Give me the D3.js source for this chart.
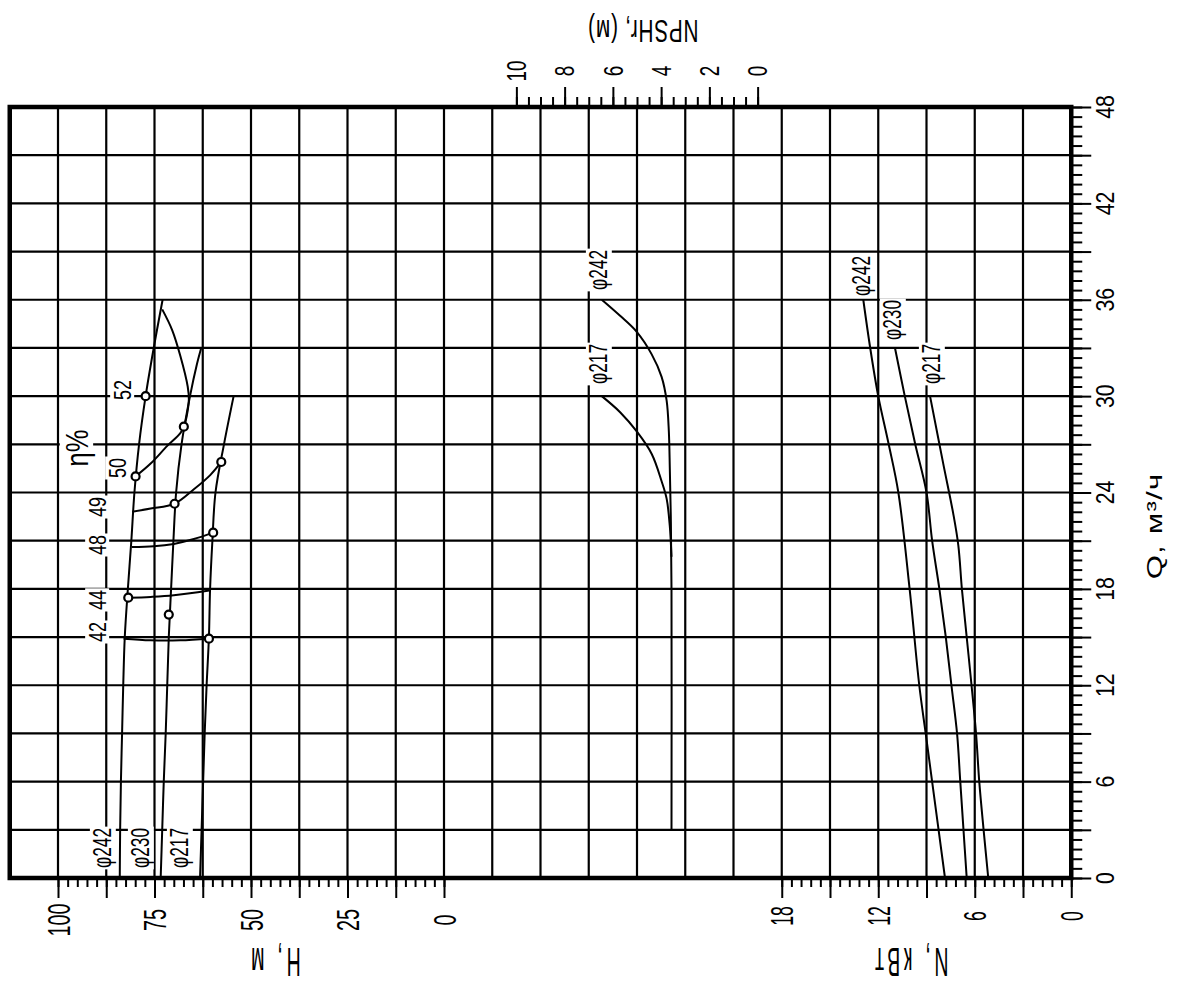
<!DOCTYPE html>
<html><head><meta charset="utf-8">
<script src="https://cdn.jsdelivr.net/npm/d3@7"></script>
<style>html,body{margin:0;padding:0;background:#fff;}svg{display:block;}</style>
</head><body>
<svg id="c" width="1183" height="987"></svg>
<script>
// ---------- data ----------
const qTicks = [0, 6, 12, 18, 24, 30, 36, 42, 48];
const hTicks = [0, 25, 50, 75, 100];
const nTicks = [0, 6, 12, 18];
const npshTicks = [0, 2, 4, 6, 8, 10];
const diameters = ["φ242", "φ230", "φ217"];

// H(Q) curves  [Q, H]
const head242 = [[0,84.0],[3,83.9],[6,83.7],[9,83.4],[12,83.1],[15,82.7],[18,81.9],[21,81.0],[24,80.2],[27,79.0],[30,77.3],[33,75.2],[36,72.9]];
const head230 = [[0,73.4],[3,73.0],[6,72.6],[9,72.1],[12,71.7],[15,71.3],[18,70.7],[21,70.1],[24,69.4],[27,68.0],[30,65.8],[32,64.0],[33,62.9]];
const head217 = [[0,63.2],[3,62.8],[6,62.4],[9,62.0],[12,61.5],[15,60.9],[18,60.6],[21,60.0],[24,59.2],[27,57.0],[30,54.5]];

// N(Q) curves  [Q, N]
const power242 = [[0,7.85],[6,8.65],[9,9.05],[12,9.45],[18,10.05],[24,10.75],[27,11.35],[30,12.0],[33,12.5],[36,12.93]];
const power230 = [[0,6.5],[3,6.7],[6,6.9],[9,7.1],[12,7.45],[15,7.8],[18,8.2],[21,8.65],[24,9.0],[27,9.7],[30,10.35],[33,10.96]];
const power217 = [[0,5.16],[3,5.45],[6,5.72],[9,5.92],[12,6.2],[15,6.5],[18,6.8],[20.7,7.02],[22.7,7.34],[25.8,7.96],[30,8.78]];

// NPSHr(Q) curves [Q, NPSH]
const npsh242 = [[3,3.57],[18,3.57],[22.6,3.6],[25.5,3.64],[27.8,3.68],[29.7,3.77],[31.2,3.98],[32.6,4.39],[34,5.01],[35,5.7],[36,6.46]];
const npsh217 = [[20,3.57],[21.9,3.64],[23.6,3.77],[24.7,3.98],[26.4,4.39],[27.8,5.01],[29,5.7],[30,6.46]];

// iso-efficiency lines [Q, H]
const eff42 = [[14.9,83.0],[14.8,76.0],[14.8,68.3],[14.9,60.9]];
const eff44 = [[17.45,81.8],[17.5,76.0],[17.6,70.0],[17.9,60.8]];
const eff48 = [[20.6,80.9],[20.65,75.2],[20.8,70.0],[21.1,64.8],[21.5,59.8]];
const eff49 = [[22.8,80.8],[23.0,76.0],[23.3,69.8],[24.2,64.8],[25.1,60.5],[25.9,57.7]];
const eff50 = [[25.0,79.9],[25.8,76.0],[26.9,71.7],[27.7,68.3],[28.1,67.4],[28.7,66.7],[29.8,66.1],[30.6,66.4],[32.5,68.3],[34.1,70.4],[35.4,73.0]];
const effLabels = ["42", "44", "48", "49", "50", "52"];

// marked points [Q, H]
const markers = [[30,77.3],[28.1,67.4],[25.0,79.9],[25.9,57.7],[23.3,69.8],[21.5,59.8],[17.45,81.8],[16.4,71.3],[14.9,60.9]];

// ---------- scales ----------
const svg = d3.select("#c");
const GRID = 48.25;
const yQ = d3.scaleLinear().domain([0, 48]).range([878, 107]);
const xH = d3.scaleLinear().domain([0, 100]).range([444, 444 - 8 * GRID]);
const xN = d3.scaleLinear().domain([0, 18]).range([444 + 13 * GRID, 444 + 7 * GRID]);
const xP = d3.scaleLinear().domain([0, 10]).range([444 + 6.5 * GRID, 444 + 1.5 * GRID]);
const FONT = "'Liberation Sans', Arial, sans-serif";

// ---------- grid ----------
const grid = svg.append("g").attr("stroke", "#000").attr("stroke-width", 2.2);
d3.range(1, 22).map(k => 112.5 - 12.5 * k).forEach(h => {
  grid.append("line").attr("x1", xH(h)).attr("x2", xH(h)).attr("y1", yQ(48)).attr("y2", yQ(0));
});
d3.range(3, 48, 3).forEach(q => {
  grid.append("line").attr("x1", xH(112.5)).attr("x2", xH(-162.5)).attr("y1", yQ(q)).attr("y2", yQ(q));
});

// ---------- curves ----------
const curves = svg.append("g").attr("fill", "none").attr("stroke", "#000").attr("stroke-width", 2);
const lineH = d3.line().x(d => xH(d[1])).y(d => yQ(d[0])).curve(d3.curveCatmullRom.alpha(0.5));
const lineN = d3.line().x(d => xN(d[1])).y(d => yQ(d[0])).curve(d3.curveCatmullRom.alpha(0.5));
const lineP = d3.line().x(d => xP(d[1])).y(d => yQ(d[0])).curve(d3.curveCatmullRom.alpha(0.5));
[head242, head230, head217, eff42, eff44, eff48, eff49, eff50].forEach(s => curves.append("path").attr("d", lineH(s)));
[power242, power230, power217].forEach(s => curves.append("path").attr("d", lineN(s)));
[npsh242, npsh217].forEach(s => curves.append("path").attr("d", lineP(s)));

svg.append("g").selectAll("circle").data(markers).join("circle")
  .attr("cx", d => xH(d[1])).attr("cy", d => yQ(d[0])).attr("r", 4)
  .attr("fill", "#fff").attr("stroke", "#000").attr("stroke-width", 2.2);

// ---------- frame ----------
svg.append("rect").attr("x", xH(112.5)).attr("y", yQ(48))
  .attr("width", xH(-162.5) - xH(112.5)).attr("height", yQ(0) - yQ(48))
  .attr("fill", "none").attr("stroke", "#000").attr("stroke-width", 4.5);

// ---------- axes ----------
function styleAxis(g) {
  g.select(".domain").remove();
  g.selectAll("line").attr("stroke", "#000").attr("stroke-width", 2);
}
const minor = (a, b, s) => d3.range(a, b + 1e-9, s).map(v => +v.toFixed(3));
svg.append("g").attr("transform", `translate(${xN(0)},0)`)
  .call(d3.axisRight(yQ).tickValues(minor(0, 48, 0.6)).tickSize(11).tickFormat("")).call(styleAxis);
svg.append("g").attr("transform", `translate(${xN(0)},0)`)
  .call(d3.axisRight(yQ).tickValues(minor(0, 48, 3)).tickSize(20).tickFormat("")).call(styleAxis);
svg.append("g").attr("transform", `translate(0,${yQ(0)})`)
  .call(d3.axisBottom(xH).tickValues(minor(0, 100, 2.5)).tickSize(9).tickFormat("")).call(styleAxis);
svg.append("g").attr("transform", `translate(0,${yQ(0)})`)
  .call(d3.axisBottom(xH).tickValues(minor(0, 100, 12.5)).tickSize(20).tickFormat("")).call(styleAxis);
svg.append("g").attr("transform", `translate(0,${yQ(0)})`)
  .call(d3.axisBottom(xN).tickValues(minor(0, 18, 0.6)).tickSize(9).tickFormat("")).call(styleAxis);
svg.append("g").attr("transform", `translate(0,${yQ(0)})`)
  .call(d3.axisBottom(xN).tickValues(minor(0, 18, 3)).tickSize(20).tickFormat("")).call(styleAxis);
svg.append("g").attr("transform", `translate(0,${yQ(48)})`)
  .call(d3.axisTop(xP).tickValues(minor(0, 10, 0.5)).tickSize(10).tickFormat("")).call(styleAxis);
svg.append("g").attr("transform", `translate(0,${yQ(48)})`)
  .call(d3.axisTop(xP).tickValues(minor(0, 10, 2)).tickSize(20).tickFormat("")).call(styleAxis);

// ---------- text helper ----------
function label(x, y, txt, o) {
  const g = svg.append("g")
    .attr("transform", `translate(${x},${y}) rotate(${o.rot}) scale(${o.sx || 1},${o.sy || 1})`);
  const r = o.bg ? g.append("rect").attr("fill", "#fff") : null;
  const t = g.append("text").text(txt)
    .attr("text-anchor", "middle").attr("dy", "0.36em")
    .attr("font-family", FONT).attr("font-size", o.size).attr("fill", "#000");
  if (o.ls) t.attr("letter-spacing", o.ls);
  if (r) {
    const b = t.node().getBBox();
    r.attr("x", b.x - 2).attr("y", b.y + 1).attr("width", b.width + 4).attr("height", b.height - 2);
  }
  return g;
}

// tick labels
hTicks.forEach(v => label(xH(v), 920, String(v), {rot: -90, size: 32, sx: 0.62}));
nTicks.forEach(v => label(xN(v), 916, String(v), {rot: -90, size: 32, sx: 0.55}));
qTicks.forEach(v => label(1105, yQ(v), String(v), {rot: -90, size: 26, sx: 0.82}));
npshTicks.forEach(v => label(xP(v), 71, String(v), {rot: -90, size: 27, sx: 0.7}));

// axis titles
label(274, 963, "H, м", {rot: 180, size: 26, sx: 0.75, sy: 1.55, ls: 5});
label(910, 963, "N, кВт", {rot: 180, size: 26, sx: 0.75, sy: 1.55, ls: 5});
label(643, 31, "NPSHr, (м)", {rot: 180, size: 26, sx: 0.8, sy: 1.2, ls: 1});
label(1154, 526, "Q, м³/ч", {rot: -90, size: 26, sx: 1.2, sy: 0.85, ls: 1});

// curve labels
const dOpt = {rot: -90, size: 25, sx: 0.69, bg: true};
label(102, 848, diameters[0], dOpt);
label(140, 848, diameters[1], dOpt);
label(179, 848, diameters[2], dOpt);
label(598, 270, diameters[0], dOpt);
label(598, 364, diameters[2], dOpt);
label(861, 276, diameters[0], dOpt);
label(892, 320, diameters[1], dOpt);
label(931, 364, diameters[2], dOpt);

// efficiency labels
const eOpt = {rot: -90, size: 24, sx: 0.75, bg: true};
label(97, 632, effLabels[0], eOpt);
label(97, 600, effLabels[1], eOpt);
label(97, 545, effLabels[2], eOpt);
label(97, 507, effLabels[3], eOpt);
label(117, 468, effLabels[4], eOpt);
label(122, 390, effLabels[5], eOpt);
label(76, 448, "η%", {rot: -90, size: 32, sx: 0.8, bg: true});
</script>
</body></html>
